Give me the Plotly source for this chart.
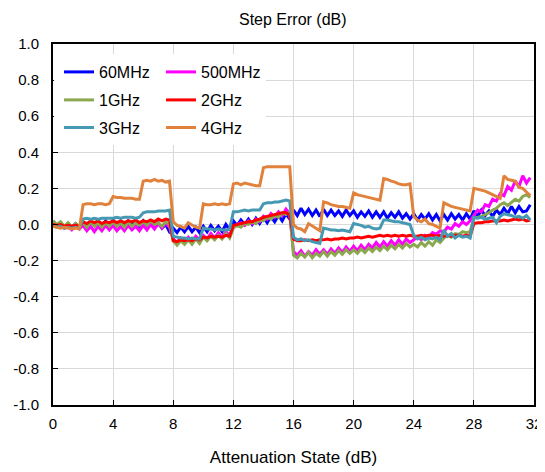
import plotly.graph_objects as go

# Attenuation states (dB), 0.25 dB steps
atten_states = [i * 0.25 for i in range(128)]

err_60mhz = [
    0.02, -0.01, 0.01, -0.015, 0.005, -0.015, 0.005, -0.02,
    0.01, -0.01, 0.015, -0.005, 0.02, -0.005, 0.02, -0.01,
    0.025, -0.005, 0.02, -0.01, 0.02, -0.005, 0.025, -0.01,
    0.02, -0.01, 0.015, -0.015, 0.01, -0.02, 0.0, -0.04,
    -0.02, -0.045, -0.015, -0.04, -0.01, -0.04, -0.015, -0.045,
    -0.01, -0.04, -0.005, -0.035, -0.01, -0.04, 0.0, -0.03,
    0.02, -0.005, 0.025, 0.0, 0.03, 0.0, 0.035, 0.005,
    0.04, 0.01, 0.045, 0.015, 0.05, 0.02, 0.06, 0.03,
    0.08, 0.05, 0.09, 0.055, 0.085, 0.05, 0.08, 0.045,
    0.085, 0.05, 0.08, 0.05, 0.075, 0.045, 0.08, 0.05,
    0.075, 0.04, 0.07, 0.045, 0.075, 0.04, 0.07, 0.04,
    0.07, 0.035, 0.065, 0.04, 0.07, 0.035, 0.06, 0.03,
    0.06, 0.025, 0.055, 0.03, 0.06, 0.025, 0.055, 0.02,
    0.055, 0.025, 0.06, 0.03, 0.055, 0.025, 0.06, 0.03,
    0.075, 0.045, 0.08, 0.05, 0.075, 0.045, 0.08, 0.055,
    0.09, 0.06, 0.1, 0.065, 0.1, 0.07, 0.075, 0.11,
]

err_500mhz = [
    0.01, -0.01, 0.0, -0.02, -0.01, -0.03, -0.005, -0.025,
    -0.005, -0.035, -0.01, -0.04, -0.01, -0.035, -0.005, -0.03,
    -0.005, -0.035, -0.01, -0.035, -0.005, -0.03, -0.01, -0.035,
    -0.005, -0.03, 0.0, -0.025, 0.005, -0.02, 0.01, -0.015,
    -0.08, -0.1, -0.075, -0.095, -0.07, -0.09, -0.065, -0.085,
    -0.06, -0.08, -0.05, -0.075, -0.045, -0.07, -0.04, -0.06,
    -0.01, 0.0, 0.01, -0.005, 0.02, 0.005, 0.03, 0.015,
    0.045, 0.03, 0.06, 0.04, 0.07, 0.05, 0.085, 0.06,
    -0.15, -0.17, -0.145, -0.175, -0.15, -0.17, -0.14, -0.165,
    -0.14, -0.165, -0.135, -0.16, -0.13, -0.155, -0.125, -0.15,
    -0.12, -0.145, -0.115, -0.14, -0.11, -0.13, -0.1, -0.125,
    -0.095, -0.12, -0.09, -0.115, -0.085, -0.11, -0.08, -0.1,
    -0.085, -0.07, -0.085, -0.06, -0.07, -0.045, -0.055, -0.035,
    -0.04, -0.015, -0.025, 0.005, -0.01, 0.015, 0.0, 0.02,
    0.05, 0.08, 0.07, 0.11, 0.1, 0.14, 0.13, 0.17,
    0.16, 0.21, 0.19, 0.24, 0.21, 0.27, 0.23, 0.26,
]

err_1ghz = [
    0.02, 0.0, 0.015, -0.01, 0.01, -0.015, 0.005, -0.01,
    0.01, -0.015, 0.015, -0.01, 0.01, -0.015, 0.01, -0.01,
    0.015, -0.01, 0.01, -0.015, 0.015, -0.01, 0.01, -0.005,
    0.015, -0.005, 0.02, 0.0, 0.01, -0.01, 0.015, 0.0,
    -0.09, -0.115, -0.09, -0.11, -0.085, -0.11, -0.08, -0.105,
    -0.07, -0.09, -0.065, -0.085, -0.06, -0.08, -0.05, -0.075,
    -0.02, -0.005, -0.015, 0.005, 0.0, 0.015, 0.005, 0.025,
    0.02, 0.04, 0.03, 0.05, 0.04, 0.065, 0.055, 0.07,
    -0.17, -0.185, -0.16, -0.18, -0.155, -0.185, -0.16, -0.175,
    -0.15, -0.175, -0.15, -0.17, -0.145, -0.165, -0.14, -0.16,
    -0.14, -0.16, -0.135, -0.155, -0.13, -0.15, -0.125, -0.145,
    -0.12, -0.14, -0.115, -0.135, -0.11, -0.13, -0.105, -0.125,
    -0.11, -0.125, -0.1, -0.12, -0.095, -0.115, -0.085, -0.1,
    -0.075, -0.06, -0.07, -0.05, -0.055, -0.04, -0.045, -0.04,
    0.035, 0.04, 0.045, 0.055, 0.065, 0.08, 0.09, 0.11,
    0.12, 0.105, 0.125, 0.14, 0.13, 0.155, 0.165, 0.15,
]

err_2ghz = [
    0.0, -0.005, 0.0, -0.01, -0.005, -0.01, -0.005, -0.01,
    0.015, 0.005, 0.02, 0.01, 0.02, 0.005, 0.015, 0.01,
    0.02, 0.01, 0.02, 0.01, 0.02, 0.015, 0.025, 0.01,
    0.02, 0.015, 0.025, 0.015, 0.03, 0.02, 0.03, 0.025,
    -0.09, -0.095, -0.085, -0.09, -0.085, -0.09, -0.08, -0.085,
    -0.07, -0.075, -0.065, -0.07, -0.065, -0.07, -0.06, -0.065,
    -0.005, 0.0, 0.005, 0.01, 0.015, 0.015, 0.025, 0.03,
    0.04, 0.045, 0.05, 0.055, 0.06, 0.065, 0.065, 0.055,
    -0.08, -0.09, -0.09, -0.085, -0.09, -0.085, -0.09, -0.085,
    -0.085, -0.08, -0.085, -0.08, -0.08, -0.075, -0.08, -0.075,
    -0.075, -0.07, -0.075, -0.07, -0.065, -0.07, -0.065, -0.06,
    -0.065, -0.06, -0.065, -0.06, -0.065, -0.06, -0.065, -0.06,
    -0.065, -0.065, -0.06, -0.065, -0.06, -0.06, -0.065, -0.06,
    -0.065, -0.06, -0.065, -0.06, -0.06, -0.065, -0.06, -0.065,
    0.005, 0.01, 0.01, 0.015, 0.015, 0.02, 0.02, 0.02,
    0.025, 0.02, 0.025, 0.03, 0.025, 0.03, 0.02, 0.025,
]

err_3ghz = [
    -0.01, -0.015, -0.01, -0.02, -0.015, -0.02, -0.015, -0.02,
    0.03, 0.035, 0.03, 0.035, 0.03, 0.035, 0.035, 0.035,
    0.035, 0.04, 0.035, 0.04, 0.04, 0.04, 0.035, 0.04,
    0.065, 0.07, 0.07, 0.07, 0.075, 0.075, 0.075, 0.08,
    -0.065, -0.07, -0.075, -0.075, -0.08, -0.075, -0.08, -0.08,
    -0.02, -0.025, -0.025, -0.03, -0.025, -0.03, -0.03, -0.025,
    0.07, 0.07, 0.075, 0.08, 0.075, 0.08, 0.08, 0.08,
    0.115, 0.12, 0.12, 0.125, 0.125, 0.13, 0.135, 0.13,
    -0.07, -0.085, -0.08, -0.09, -0.085, -0.095, -0.1, -0.105,
    -0.02, -0.025, -0.03, -0.03, -0.035, -0.03, -0.035, -0.04,
    0.005, 0.0, -0.005, -0.015, -0.01, -0.02, -0.025, -0.02,
    0.025, 0.025, 0.02, 0.015, 0.015, 0.01, 0.005, 0.0,
    -0.06, -0.08, -0.07, -0.085, -0.075, -0.08, -0.07, -0.085,
    -0.03, -0.065, -0.05, -0.075, -0.06, -0.07, -0.065, -0.075,
    0.04, 0.035, 0.04, 0.03, 0.035, 0.04, 0.01, 0.045,
    0.06, 0.055, 0.05, 0.04, 0.045, 0.035, 0.05, 0.025,
]

err_4ghz = [
    -0.01, -0.015, -0.02, -0.015, -0.02, -0.025, -0.02, -0.025,
    0.11, 0.115, 0.115, 0.11, 0.115, 0.115, 0.11, 0.115,
    0.155, 0.15, 0.15, 0.145, 0.145, 0.145, 0.14, 0.14,
    0.24, 0.245, 0.24, 0.25, 0.24, 0.245, 0.235, 0.24,
    0.015, -0.005, -0.01, -0.02, 0.01, -0.005, -0.015, -0.02,
    0.115, 0.11, 0.11, 0.115, 0.11, 0.115, 0.11, 0.115,
    0.225, 0.23, 0.22, 0.23, 0.225, 0.22, 0.215, 0.215,
    0.315, 0.32, 0.32, 0.32, 0.32, 0.32, 0.32, 0.32,
    0.0, -0.02, -0.025, -0.04, 0.005, -0.01, -0.02, -0.035,
    0.125, 0.12, 0.11, 0.105, 0.1, 0.1, 0.095, 0.09,
    0.175, 0.165, 0.16, 0.155, 0.15, 0.145, 0.14, 0.135,
    0.255, 0.25, 0.24, 0.235, 0.225, 0.22, 0.22, 0.225,
    0.045, 0.025, 0.015, 0.03, 0.005, 0.0, -0.01, -0.02,
    0.12, 0.11, 0.1, 0.095, 0.09, 0.085, 0.08, 0.075,
    0.2, 0.195, 0.19, 0.185, 0.175, 0.165, 0.155, 0.145,
    0.27, 0.25, 0.245, 0.24, 0.205, 0.2, 0.18, 0.16,
]

series_names = ["60MHz", "500MHz", "1GHz", "2GHz", "3GHz", "4GHz"]
series_values = [err_60mhz, err_500mhz, err_1ghz, err_2ghz, err_3ghz, err_4ghz]
series_colors = ["#0000FF", "#FF00FF", "#8BA84E", "#FF0000", "#4599B3", "#E0823C"]
series_legends = ["legend", "legend", "legend2", "legend2", "legend3", "legend3"]

x_tick_vals = [0, 4, 8, 12, 16, 20, 24, 28, 32]
y_tick_vals = [-1.0, -0.8, -0.6, -0.4, -0.2, 0.0, 0.2, 0.4, 0.6, 0.8, 1.0]

FONT = "Liberation Sans, Arial, sans-serif"

fig = go.Figure()
for name, vals, col, lg in zip(series_names, series_values, series_colors, series_legends):
    fig.add_trace(go.Scatter(
        x=atten_states, y=vals, mode="lines", name=name,
        line=dict(color=col, width=3), legend=lg,
    ))

# page has an 8px body margin; figure is sized to fit inside the window
OFF = 8
W, H = 537, 464
ml, mr, mt, mb = 45, 11, 36, 67
pw, ph = W - ml - mr, H - mt - mb

def px_to_paper_x(page_px):
    return (page_px - OFF - ml) / pw

def px_to_paper_y(page_py):
    return 1 - (page_py - OFF - mt) / ph

leg_common = dict(
    orientation="h", xanchor="left", yanchor="top",
    bgcolor="rgba(255,255,255,1)", borderwidth=0,
    font=dict(family=FONT, size=16, color="#000000"),
    entrywidth=57, entrywidthmode="pixels",
    tracegroupgap=0, itemwidth=30,
)

fig.update_layout(
    width=W, height=H,
    margin=dict(l=ml, r=mr, t=mt, b=mb, autoexpand=False),
    paper_bgcolor="white", plot_bgcolor="white",
    font=dict(family=FONT, size=15, color="#000000"),
    showlegend=True,
    legend=dict(x=px_to_paper_x(59), y=px_to_paper_y(55), **leg_common),
    legend2=dict(x=px_to_paper_x(59), y=px_to_paper_y(83), **leg_common),
    legend3=dict(x=px_to_paper_x(59), y=px_to_paper_y(110.5), **leg_common),
    xaxis=dict(
        range=[0, 32], tickvals=x_tick_vals, ticktext=[str(v) for v in x_tick_vals],
        showgrid=True, gridcolor="#D9D9D9", gridwidth=1,
        ticks="inside", ticklen=5, tickcolor="#000000", tickwidth=1,
        showline=True, linecolor="#000000", linewidth=2, mirror=True,
        zeroline=False, automargin=False, ticklabelstandoff=4,
        tickfont=dict(family=FONT, size=15, color="#000000"),
        title=dict(text="Attenuation State (dB)", font=dict(family=FONT, size=17, color="#000000"), standoff=20),
    ),
    yaxis=dict(
        range=[-1, 1], tickvals=y_tick_vals, ticktext=[f"{v:.1f}" for v in y_tick_vals],
        showgrid=True, gridcolor="#D9D9D9", gridwidth=1,
        ticks="inside", ticklen=5, tickcolor="#000000", tickwidth=1,
        showline=True, linecolor="#000000", linewidth=2, mirror=True,
        zeroline=False, automargin=False, ticklabelstandoff=9,
        tickfont=dict(family=FONT, size=15, color="#000000"),
    ),
    shapes=[dict(
        type="rect", xref="paper", yref="paper",
        x0=px_to_paper_x(54), x1=px_to_paper_x(266),
        y0=px_to_paper_y(140), y1=px_to_paper_y(54),
        fillcolor="white", line=dict(width=0), layer="above",
    )],
    annotations=[dict(
        text="Step Error (dB)", xref="paper", yref="paper",
        x=px_to_paper_x(293), y=px_to_paper_y(20), xanchor="center", yanchor="middle",
        showarrow=False, font=dict(family=FONT, size=16, color="#000000"),
    )],
)

fig.write_html("out.html")
